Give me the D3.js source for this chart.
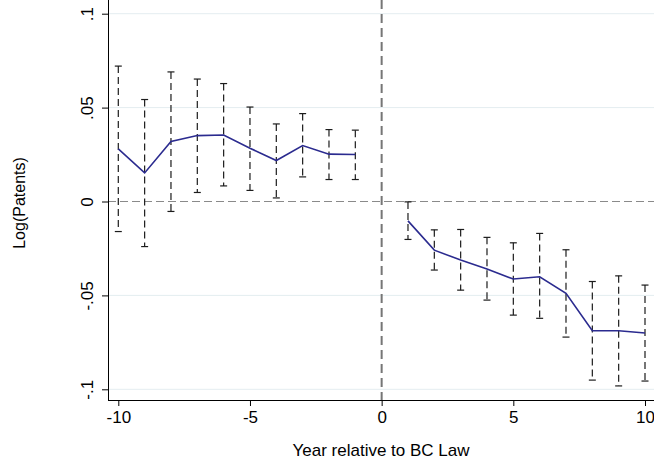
<!DOCTYPE html>
<html>
<head>
<meta charset="utf-8">
<script src="https://cdn.jsdelivr.net/npm/d3@7"></script>
<style>
    body { margin: 0; background: #fff; }
    svg { display: block; font-family: "Liberation Sans", Arial, sans-serif; }
    .grid line { stroke: #e4edf0; stroke-width: 1; }
    .axis path, .axis line { stroke: #000; stroke-width: 1; }
    .axis text { font-size: 17px; fill: #000; }
</style>
</head>
<body>
<div class="chart"></div>
<script>
"use strict"

// event-time estimates
const years = [-10, -9, -8, -7, -6, -5, -4, -3, -2, -1, 1, 2, 3, 4, 5, 6, 7, 8, 9, 10]
const coef = [0.028, 0.0152, 0.0319, 0.0351, 0.0354, 0.0284, 0.0218, 0.0298, 0.0252, 0.025,
    -0.0103, -0.0259, -0.0312, -0.036, -0.0413, -0.0401, -0.0489, -0.0688, -0.0688, -0.070]
const ciHigh = [0.0721, 0.0543, 0.069, 0.0652, 0.0628, 0.0503, 0.0413, 0.0468, 0.0383, 0.038,
    -0.0002, -0.0151, -0.0149, -0.0191, -0.022, -0.017, -0.0257, -0.0426, -0.0396, -0.0445]
const ciLow = [-0.016, -0.024, -0.0053, 0.0048, 0.0083, 0.0059, 0.0019, 0.0131, 0.0117, 0.0117,
    -0.0202, -0.0365, -0.0472, -0.0525, -0.0605, -0.0622, -0.0722, -0.0951, -0.0982, -0.0956]

const xTicks = [-10, -5, 0, 5, 10]
const xTickLabels = ["-10", "-5", "0", "5", "10"]
const yTicks = [-0.1, -0.05, 0, 0.05, 0.1]
const yTickLabels = ["-.1", "-.05", "0", ".05", ".1"]

const WIDTH = 654, HEIGHT = 463
// plot box edges
const BOX = { left: 108, right: 654, top: 0, bottom: 400 }

const svg = d3.select(".chart").append("svg")
    .attr("width", WIDTH).attr("height", HEIGHT)

const x = d3.scaleLinear().domain([-10, 10]).range([118.3, 645])
const y = d3.scaleLinear().domain([-0.1, 0.1]).range([389.3, 13.7])

// light horizontal grid lines
svg.append("g").attr("class", "grid")
    .selectAll("line").data(yTicks.filter((d) => d !== 0)).join("line")
    .attr("x1", BOX.left).attr("x2", BOX.right)
    .attr("y1", (d) => y(d)).attr("y2", (d) => y(d))

// reference lines at zero
svg.append("line")
    .attr("x1", BOX.left).attr("x2", BOX.right)
    .attr("y1", y(0)).attr("y2", y(0))
    .attr("stroke", "#8a8a8a").attr("stroke-width", 1.1)
    .attr("stroke-dasharray", "8,4")

svg.append("line")
    .attr("x1", x(0)).attr("x2", x(0))
    .attr("y1", BOX.top).attr("y2", BOX.bottom)
    .attr("stroke", "#767676").attr("stroke-width", 2)
    .attr("stroke-dasharray", "9,5")

const rows = years.map((d, i) => ({ year: d, b: coef[i], hi: ciHigh[i], lo: ciLow[i] }))

// confidence intervals
const bars = svg.append("g").attr("stroke", "#1c1c1c").attr("stroke-width", 1.2)
bars.selectAll("line.ci").data(rows).join("line").attr("class", "ci")
    .attr("x1", (d) => x(d.year)).attr("x2", (d) => x(d.year))
    .attr("y1", (d) => y(d.hi)).attr("y2", (d) => y(d.lo))
    .attr("stroke-dasharray", "7,4")
bars.selectAll("line.capHi").data(rows).join("line").attr("class", "capHi")
    .attr("x1", (d) => x(d.year) - 3.5).attr("x2", (d) => x(d.year) + 3.5)
    .attr("y1", (d) => y(d.hi)).attr("y2", (d) => y(d.hi))
bars.selectAll("line.capLo").data(rows).join("line").attr("class", "capLo")
    .attr("x1", (d) => x(d.year) - 3.5).attr("x2", (d) => x(d.year) + 3.5)
    .attr("y1", (d) => y(d.lo)).attr("y2", (d) => y(d.lo))

// point estimates, split before and after the law
const lineGen = d3.line().x((d) => x(d.year)).y((d) => y(d.b))
const segments = [rows.filter((d) => d.year < 0), rows.filter((d) => d.year > 0)]
svg.append("g").selectAll("path").data(segments).join("path")
    .attr("d", lineGen)
    .attr("fill", "none").attr("stroke", "#2b2b8f").attr("stroke-width", 1.6)

// axes
const xAxis = svg.append("g").attr("class", "axis")
    .attr("transform", "translate(0," + BOX.bottom + ")")
    .call(d3.axisBottom(x).tickValues(xTicks).tickSize(6).tickPadding(5)
        .tickFormat((d, i) => xTickLabels[i]))
xAxis.select(".domain").attr("d", "M" + BOX.left + ",0.5H" + BOX.right)

const yAxis = svg.append("g").attr("class", "axis")
    .attr("transform", "translate(" + BOX.left + ",0)")
    .call(d3.axisLeft(y).tickValues(yTicks).tickSize(6)
        .tickFormat((d, i) => yTickLabels[i]))
yAxis.select(".domain").attr("d", "M0.5," + BOX.top + "V" + BOX.bottom)
yAxis.selectAll(".tick text")
    .attr("x", null).attr("dy", null)
    .attr("text-anchor", "middle")
    .attr("transform", "translate(-15,0) rotate(-90)")

// axis titles
svg.append("text")
    .attr("x", (BOX.left + BOX.right) / 2).attr("y", 456)
    .attr("text-anchor", "middle").attr("font-size", 17)
    .text("Year relative to BC Law")

svg.append("text")
    .attr("transform", "translate(25,203) rotate(-90)")
    .attr("text-anchor", "middle").attr("font-size", 16)
    .text("Log(Patents)")
</script>
</body>
</html>
